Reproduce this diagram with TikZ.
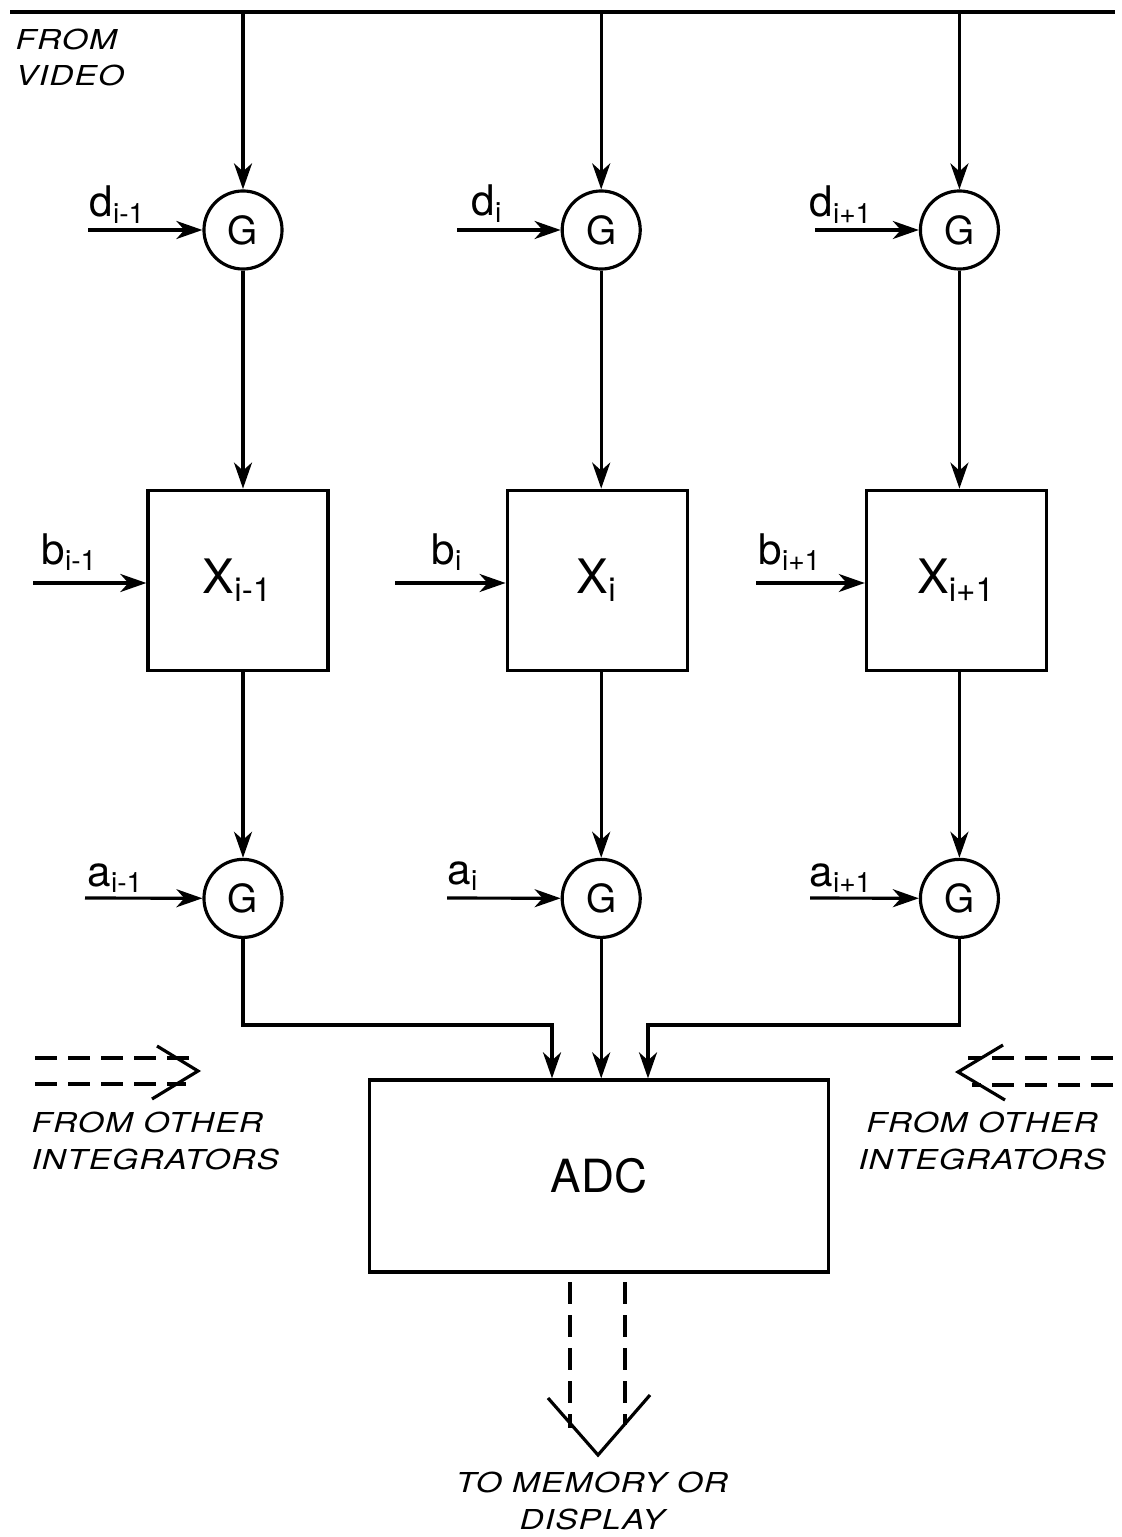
\documentclass[tikz,border=0pt]{standalone}
\usepackage{fontspec}
\setmainfont{TeX Gyre Heros}
\newfontfamily\lettering[FakeStretch=1.22, LetterSpace=4]{TeX Gyre Heros}
\usetikzlibrary{positioning, arrows.meta}

\newcommand{\sgn}[2]{#1\textsubscript{#2}}

\begin{document}
\begin{tikzpicture}[
        x=0.01cm, y=-0.01cm,
        >={Stealth[length=2.6mm, width=1.8mm, inset=0.8mm]},
        line width=0.9pt,
        node distance=3.5cm and 3.58cm,
        on grid,
        gate/.style={draw, circle, minimum size=0.78cm, inner sep=0pt, font=\fontsize{11}{13}\selectfont},
        blk/.style={draw, minimum width=1.8cm, minimum height=1.8cm, inner sep=0pt, font=\fontsize{13.5}{15}\selectfont},
        sig/.style={anchor=base west, inner sep=0pt, font=\fontsize{12}{14}\selectfont},
        note/.style={inner sep=0pt, font=\lettering\itshape\fontsize{7.8}{10.5}\selectfont},
        bus/.style={dash pattern=on 0.22cm off 0.11cm}
    ]
    \useasboundingbox (0,0) rectangle (1121,1537);

    % video line
    \coordinate (vl) at (10,12);
    \coordinate (vr) at (1115,12);
    \draw (vl) -- (vr);
    \node[note, align=left, anchor=north west] (video) at (14,27) {FROM\\VIDEO};

    % input gates
    \node[gate] (gd1) at (243,230) {G};
    \node[gate, right=of gd1] (gd2) {G};
    \node[gate, right=of gd2] (gd3) {G};

    % integrators
    \node[blk, below=of gd1, xshift=-0.05cm] (x1) {X\textsubscript{i-1}};
    \node[blk, below=of gd2, xshift=-0.04cm] (x2) {X\textsubscript{i}};
    \node[blk, below=of gd3, xshift=-0.03cm] (x3) {X\textsubscript{i+1}};

    % output gates
    \node[gate, below=6.68cm of gd1] (ga1) {G};
    \node[gate, below=6.68cm of gd2] (ga2) {G};
    \node[gate, below=6.68cm of gd3] (ga3) {G};

    \node[blk, minimum width=4.58cm, minimum height=1.92cm, font=\fontsize{13}{15}\selectfont] (adc) at (599,1176) {ADC};

    % control inputs
    \coordinate (dn1) at (88,230);
    \coordinate (dn2) at (457,230);
    \coordinate (dn3) at (815,230);
    \coordinate (bn1) at (33,583);
    \coordinate (bn2) at (395,583);
    \coordinate (bn3) at (756,583);
    \coordinate (an1) at (85,898);
    \coordinate (an2) at (447,898);
    \coordinate (an3) at (810,898);
    \node[sig] (ld1) at (88,217) {\sgn{d}{i-1}};
    \node[sig] (ld2) at (470,216) {\sgn{d}{i}};
    \node[sig] (ld3) at (808,217) {\sgn{d}{i+1}};
    \node[sig] (lb1) at (40,564) {\sgn{b}{i-1}};
    \node[sig] (lb2) at (430,564) {\sgn{b}{i}};
    \node[sig] (lb3) at (757,564) {\sgn{b}{i+1}};
    \node[sig] (la1) at (86,886) {\sgn{a}{i-1}};
    \node[sig] (la2) at (446,884) {\sgn{a}{i}};
    \node[sig] (la3) at (808,886) {\sgn{a}{i+1}};

    \draw[->] (dn1) -- (gd1);
    \draw[->] (dn2) -- (gd2);
    \draw[->] (dn3) -- (gd3);
    \draw[->] (bn1) -- (bn1 -| x1.west);
    \draw[->] (bn2) -- (bn2 -| x2.west);
    \draw[->] (bn3) -- (bn3 -| x3.west);
    \draw[->] (an1) -- (ga1);
    \draw[->] (an2) -- (ga2);
    \draw[->] (an3) -- (ga3);

    % columns
    \draw[->] (gd1 |- vl) -- (gd1);
    \draw[->] (gd2 |- vl) -- (gd2);
    \draw[->] (gd3 |- vl) -- (gd3);
    \draw[->] (gd1) -- (gd1 |- x1.north);
    \draw[->] (gd2) -- (gd2 |- x2.north);
    \draw[->] (gd3) -- (gd3 |- x3.north);
    \draw[->] (ga1 |- x1.south) -- (ga1);
    \draw[->] (ga2 |- x2.south) -- (ga2);
    \draw[->] (ga3 |- x3.south) -- (ga3);

    % into the ADC
    \coordinate (j1) at (552,1025);
    \coordinate (j3) at (648,1025);
    \draw[->] (ga1) |- (j1) -- (j1 |- adc.north);
    \draw[->] (ga2) -- (ga2 |- adc.north);
    \draw[->] (ga3) |- (j3) -- (j3 |- adc.north);

    % from other integrators
    \draw[bus] (35,1058) -- (190,1058);
    \draw[bus] (35,1084) -- (186,1084);
    \draw (157,1046) -- (198,1071) -- (152,1099);
    \draw[bus] (1113,1058) -- (968,1058);
    \draw[bus] (1113,1085) -- (972,1085);
    \draw (1003,1045) -- (958,1072) -- (1005,1100);
    \node[note, align=left, anchor=north west] (oth1) at (30,1110) {FROM OTHER\\INTEGRATORS};
    \node[note, align=center, anchor=north] (oth3) at (982,1110) {FROM OTHER\\INTEGRATORS};

    % to memory
    \draw[bus] (570,1282) -- (570,1428);
    \draw[bus] (625,1282) -- (625,1425);
    \draw (548,1398) -- (598,1455) -- (650,1395);
    \node[note, align=center, anchor=north] (mem) at (592,1470) {TO MEMORY OR\\DISPLAY};
\end{tikzpicture}
\end{document}
